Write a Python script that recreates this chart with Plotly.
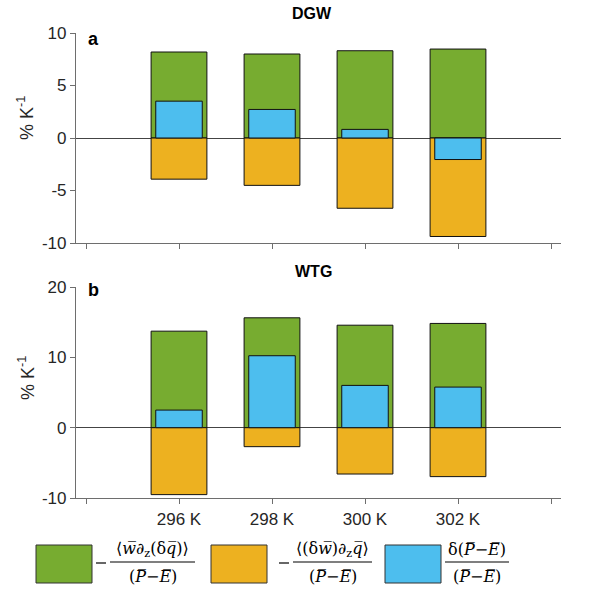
import plotly.graph_objects as go

# ---------------- data ----------------
categories = ["296 K", "298 K", "300 K", "302 K"]
cat_pos = [1, 2, 3, 4]
edge_ticks = [0, 5]
ya_ticks = [-10, -5, 0, 5, 10]
yb_ticks = [-10, 0, 10, 20]

dgw_green = [8.19, 8.00, 8.31, 8.47]
dgw_orange = [-3.92, -4.51, -6.69, -9.38]
dgw_blue = [3.51, 2.72, 0.82, -2.05]

wtg_green = [13.72, 15.62, 14.57, 14.82]
wtg_orange = [-9.52, -2.70, -6.59, -6.96]
wtg_blue = [2.50, 10.23, 6.01, 5.77]

GREEN = "#77AC30"
ORANGE = "#EDB120"
BLUE = "#4DBEEE"

W, H = 601, 591
ML, MR, MT, MB = 76, 40, 33, 93
PW = W - ML - MR
PH = H - MT - MB


def px(x):
    return (x - ML) / PW


def py(y):
    return (H - MB - y) / PH


fig = go.Figure()


def add_panel(green, orange, blue, xa, ya):
    for vals, col, wd in ((green, GREEN, 0.6), (orange, ORANGE, 0.6), (blue, BLUE, 0.5)):
        fig.add_trace(go.Bar(
            x=cat_pos, y=vals, width=wd, xaxis=xa, yaxis=ya,
            marker=dict(color=col, line=dict(color="#111111", width=1)),
            showlegend=False, hoverinfo="skip",
        ))


add_panel(dgw_green, dgw_orange, dgw_blue, "x", "y")
add_panel(wtg_green, wtg_orange, wtg_blue, "x2", "y2")

AX = "#6e6e6e"
TF = dict(family="Liberation Sans, Arial, sans-serif", size=17, color="#262626")
xcommon = dict(range=[-0.1075, 5.1075], tickmode="array", tickvals=cat_pos,
               showline=True, linecolor=AX, linewidth=1.2, ticks="outside",
               ticklen=5, tickcolor=AX, showgrid=False, zeroline=False,
               tickfont=TF, fixedrange=True,
               minor=dict(tickmode="array", tickvals=edge_ticks, ticks="outside",
                          ticklen=5, tickcolor=AX, showgrid=False))
ycommon = dict(showline=True, linecolor=AX, linewidth=1.2, ticks="outside",
               ticklen=5, tickcolor=AX, showgrid=False, zeroline=True,
               zerolinecolor="#444444", zerolinewidth=1, tickfont=TF,
               tickmode="array", fixedrange=True)

top_a, bot_a = py(33), py(243)
top_b, bot_b = py(287), py(498)

fig.update_layout(
    width=W, height=H,
    margin=dict(l=ML, r=MR, t=MT, b=MB),
    paper_bgcolor="white", plot_bgcolor="white",
    barmode="overlay", showlegend=False,
    xaxis=dict(domain=[0, 1], anchor="y", showticklabels=False, **xcommon),
    yaxis=dict(domain=[bot_a, top_a], anchor="x", range=[-10, 10],
               tickvals=ya_ticks, ticktext=[str(v) for v in ya_ticks], **ycommon),
    xaxis2=dict(domain=[0, 1], anchor="y2", ticktext=categories, **xcommon),
    yaxis2=dict(domain=[bot_b, top_b], anchor="x2", range=[-10, 20],
                tickvals=yb_ticks, ticktext=[str(v) for v in yb_ticks], **ycommon),
)

ann = []
BF = dict(family="Liberation Sans, Arial, sans-serif", color="#000000")
ann.append(dict(x=px(312), y=py(13), text="<b>DGW</b>", font=dict(size=16, **BF)))
ann.append(dict(x=px(313), y=py(271), text="<b>WTG</b>", font=dict(size=16, **BF)))
ann.append(dict(x=px(93), y=py(39), text="<b>a</b>", font=dict(size=18, **BF)))
ann.append(dict(x=px(93), y=py(290), text="<b>b</b>", font=dict(size=18, **BF)))
YL = dict(family="Liberation Sans, Arial, sans-serif", size=18, color="#262626")
ann.append(dict(x=px(26), y=py(118), text="% K<sup>-1</sup>", textangle=-90, font=YL))
ann.append(dict(x=px(26), y=py(378), text="% K<sup>-1</sup>", textangle=-90, font=YL))

# ---------------- legend (math labels) ----------------
MF = dict(family="DejaVu Serif, Liberation Serif, serif", size=16, color="#000000")
OL = "\u0305"
Pb = "<i>P</i>" + OL
Eb = "<i>E</i>" + OL
den = "(" + Pb + "\u2212" + Eb + ")"
legend_items = [
    (36, GREEN, 110, 195, "\u27e8<i>w</i>" + OL + "\u2202<sub>z</sub>(\u03b4<i>q</i>" + OL + ")\u27e9", True),
    (211, ORANGE, 293, 372, "\u27e8(\u03b4<i>w</i>" + OL + ")\u2202<sub>z</sub><i>q</i>" + OL + "\u27e9", True),
    (385, BLUE, 445, 509, "\u03b4" + den, False),
]
shapes = []
for bx, col, fx0, fx1, num, minus in legend_items:
    shapes.append(dict(type="rect", xref="paper", yref="paper",
                       x0=px(bx), x1=px(bx + 56), y0=py(583), y1=py(545),
                       fillcolor=col, line=dict(color="#333333", width=1)))
    shapes.append(dict(type="line", xref="paper", yref="paper",
                       x0=px(fx0), x1=px(fx1), y0=py(562), y1=py(562),
                       line=dict(color="#000000", width=1.2)))
    cx = (fx0 + fx1) / 2
    ann.append(dict(x=px(cx), y=py(549), text=num, font=MF))
    ann.append(dict(x=px(cx), y=py(576), text=den, font=MF))
    if minus:
        shapes.append(dict(type="line", xref="paper", yref="paper",
                           x0=px(fx0 - 14), x1=px(fx0 - 4), y0=py(563), y1=py(563),
                           line=dict(color="#000000", width=1.2)))

for a in ann:
    a.update(xref="paper", yref="paper", showarrow=False,
             xanchor="center", yanchor="middle")
fig.update_layout(annotations=ann, shapes=shapes)

fig.write_html("out.html", config={"displayModeBar": False},
               post_script="document.body.style.margin='0px';document.body.style.overflow='hidden';")
